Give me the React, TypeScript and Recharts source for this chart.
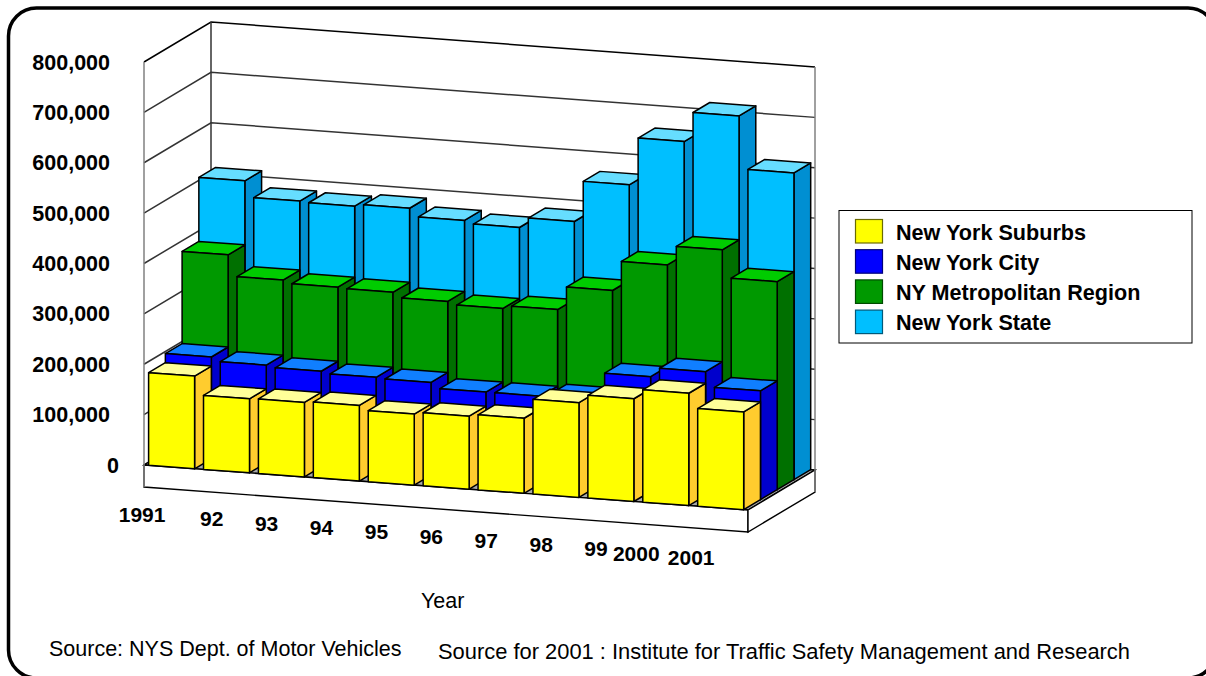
import { Bar, BarChart, CartesianGrid, XAxis, YAxis } from 'recharts';

const years = ['1991', '92', '93', '94', '95', '96', '97', '98', '99', '2000', '2001'];
const suburbs = [184000, 147000, 148000, 150000, 141000, 145000, 149000, 188000, 204000, 223000, 194000];
const city = [202000, 194000, 190000, 186000, 184000, 173000, 173000, 178000, 228000, 246000, 216000];
const metro = [385000, 343000, 337000, 335000, 325000, 319000, 325000, 371000, 430000, 468000, 413000];
const state = [512000, 480000, 478000, 482000, 466000, 460000, 480000, 561000, 655000, 714000, 609000];
const yTicks = [0, 100000, 200000, 300000, 400000, 500000, 600000, 700000, 800000];

const data = years.map((year, i) => ({
  year,
  suburbs: suburbs[i],
  city: city[i],
  metro: metro[i],
  state: state[i],
}));

const FONT = '"Liberation Sans", Arial, sans-serif';
const PLOT_LEFT = 144;
const PLOT_RIGHT = 748;
const PLOT_TOP = 62;
const PLOT_BOTTOM = 465;
const DEPTH_X = 16.75;
const DEPTH_Y = 10;
const TILT = 45 / 604;
const ROWS = 4;

// oblique projection: depth is counted in rows, front row is 0
function project(px: number, py: number, depth: number) {
  const sx = px + depth * DEPTH_X;
  const sy = py + TILT * (px - PLOT_LEFT) - depth * DEPTH_Y;
  return `${sx},${sy}`;
}

const palette = {
  suburbs: { front: '#ffff00', side: '#ffcc2e', top: '#ffff99', edge: '#6b6b00' },
  city: { front: '#0000ff', side: '#0000cc', top: '#107fff', edge: '#00007a' },
  metro: { front: '#009900', side: '#007000', top: '#00cc00', edge: '#004a00' },
  state: { front: '#00bfff', side: '#008fd2', top: '#66ddff', edge: '#00597a' },
};

function Box3D(props: any) {
  const { x, y, width, height, row, colors } = props;
  const l = x + 0.6;
  const r = l + width;
  const t = y;
  const b = y + height;
  return (
    <g stroke="#000" strokeWidth={1.5} strokeLinejoin="round">
      <polygon
        fill={colors.side}
        points={`${project(r, t, row)} ${project(r, t, row + 1)} ${project(r, b, row + 1)} ${project(r, b, row)}`}
      />
      <polygon
        fill={colors.top}
        points={`${project(l, t, row)} ${project(l, t, row + 1)} ${project(r, t, row + 1)} ${project(r, t, row)}`}
      />
      <polygon
        fill={colors.front}
        points={`${project(l, t, row)} ${project(r, t, row)} ${project(r, b, row)} ${project(l, b, row)}`}
      />
    </g>
  );
}

function WallLine(props: any) {
  const y = props.y1;
  const isTop = Math.abs(y - PLOT_TOP) < 1;
  return (
    <polyline
      key={props.key}
      fill="none"
      stroke={isTop ? '#000' : '#333'}
      strokeWidth={1.5}
      points={`${project(PLOT_LEFT, y, 0)} ${project(PLOT_LEFT, y, ROWS)} ${project(PLOT_RIGHT, y, ROWS)}`}
    />
  );
}

function Frame() {
  const thick = 22;
  return (
    <g>
      <polygon
        fill="#a8a8a8"
        stroke="#000"
        strokeWidth={1.4}
        points={`${project(PLOT_LEFT, PLOT_BOTTOM, 0)} ${project(PLOT_LEFT, PLOT_BOTTOM, ROWS)} ${project(PLOT_RIGHT, PLOT_BOTTOM, ROWS)} ${project(PLOT_RIGHT, PLOT_BOTTOM, 0)}`}
      />
      <polygon
        fill="#fff"
        stroke="#000"
        strokeWidth={1.4}
        points={`${project(PLOT_LEFT, PLOT_BOTTOM, 0)} ${project(PLOT_RIGHT, PLOT_BOTTOM, 0)} ${project(PLOT_RIGHT, PLOT_BOTTOM + thick, 0)} ${project(PLOT_LEFT, PLOT_BOTTOM + thick, 0)}`}
      />
      <polygon
        fill="#fff"
        stroke="#000"
        strokeWidth={1.4}
        points={`${project(PLOT_RIGHT, PLOT_BOTTOM, 0)} ${project(PLOT_RIGHT, PLOT_BOTTOM, ROWS)} ${project(PLOT_RIGHT, PLOT_BOTTOM + thick, ROWS)} ${project(PLOT_RIGHT, PLOT_BOTTOM + thick, 0)}`}
      />
      <polyline
        fill="none"
        stroke="#808080"
        strokeWidth={1.5}
        points={`${project(PLOT_LEFT, PLOT_TOP, 0)} ${project(PLOT_LEFT, PLOT_BOTTOM + thick, 0)}`}
      />
      <polyline
        fill="none"
        stroke="#333"
        strokeWidth={1.5}
        points={`${project(PLOT_LEFT, PLOT_TOP, ROWS)} ${project(PLOT_LEFT, PLOT_BOTTOM, ROWS)}`}
      />
      <polyline
        fill="none"
        stroke="#808080"
        strokeWidth={1.5}
        points={`${project(PLOT_RIGHT, PLOT_TOP, ROWS)} ${project(PLOT_RIGHT, PLOT_BOTTOM + thick, ROWS)}`}
      />
    </g>
  );
}

function YearTick(props: any) {
  const { x, y, payload, index } = props;
  const shift = payload.value.length === 4 ? -6 : -3;
  return (
    <text
      x={x + shift}
      y={y + 49 + index * 4.3}
      textAnchor="end"
      fontFamily={FONT}
      fontWeight={700}
      fontSize={21}
      fill="#000"
    >
      {payload.value}
    </text>
  );
}

function ValueTick(props: any) {
  const { x, y, payload } = props;
  return (
    <text
      x={payload.value === 0 ? x + 9 : x}
      y={y + 7.5}
      textAnchor="end"
      fontFamily={FONT}
      fontWeight={700}
      fontSize={21.5}
      fill="#000"
    >
      {payload.value.toLocaleString('en-US')}
    </text>
  );
}

const legendItems = [
  { name: 'New York Suburbs', colors: palette.suburbs },
  { name: 'New York City', colors: palette.city },
  { name: 'NY Metropolitan Region', colors: palette.metro },
  { name: 'New York State', colors: palette.state },
];

function ChartLegend() {
  return (
    <g>
      <rect x={839} y={210.5} width={353} height={132.5} fill="#fff" stroke="#000" strokeWidth={1} />
      {legendItems.map((item, i) => (
        <g key={item.name}>
          <rect
            x={855.5}
            y={219.5 + i * 30.2}
            width={27}
            height={23.5}
            fill={item.colors.front}
            stroke={item.colors.edge}
            strokeWidth={1.2}
          />
          <text
            x={896}
            y={239.5 + i * 30.2}
            fontFamily={FONT}
            fontWeight={700}
            fontSize={21.6}
            fill="#000"
          >
            {item.name}
          </text>
        </g>
      ))}
    </g>
  );
}

export default function App() {
  return (
    <div style={{ position: 'absolute', left: 0, top: 0, width: 1206, height: 676, overflow: 'hidden', background: '#fff' }}>
      <BarChart
        width={1206}
        height={676}
        data={data}
        barSize={46}
        barGap={-46}
        margin={{ top: PLOT_TOP, right: 1206 - PLOT_RIGHT, bottom: 676 - PLOT_BOTTOM - 30, left: 10 }}
      >
        <Frame />
        <CartesianGrid horizontal={(p: any) => <WallLine {...p} />} vertical={false} />
        <XAxis dataKey="year" height={30} axisLine={false} tickLine={false} interval={0} tick={<YearTick />} />
        <YAxis
          width={134}
          domain={[0, 800000]}
          ticks={yTicks}
          interval={0}
          axisLine={false}
          tickLine={false}
          tickSize={0}
          tickMargin={34}
          tick={<ValueTick />}
        />
        <Bar dataKey="state" isAnimationActive={false} shape={(p: any) => <Box3D {...p} row={3} colors={palette.state} />} />
        <Bar dataKey="metro" isAnimationActive={false} shape={(p: any) => <Box3D {...p} row={2} colors={palette.metro} />} />
        <Bar dataKey="city" isAnimationActive={false} shape={(p: any) => <Box3D {...p} row={1} colors={palette.city} />} />
        <Bar dataKey="suburbs" isAnimationActive={false} shape={(p: any) => <Box3D {...p} row={0} colors={palette.suburbs} />} />
        <ChartLegend />
        <text x={421} y={608} fontFamily={FONT} fontSize={21.5} fill="#000">Year</text>
        <text x={49} y={656} fontFamily={FONT} fontSize={21.5} fill="#000">Source: NYS Dept. of Motor Vehicles</text>
        <text x={438} y={659} fontFamily={FONT} fontSize={21.9} fill="#000">Source for 2001 : Institute for Traffic Safety Management and Research</text>
        <rect x={8.5} y={8} width={1207.5} height={670} rx={28} ry={28} fill="none" stroke="#000" strokeWidth={3.5} />
      </BarChart>
    </div>
  );
}
